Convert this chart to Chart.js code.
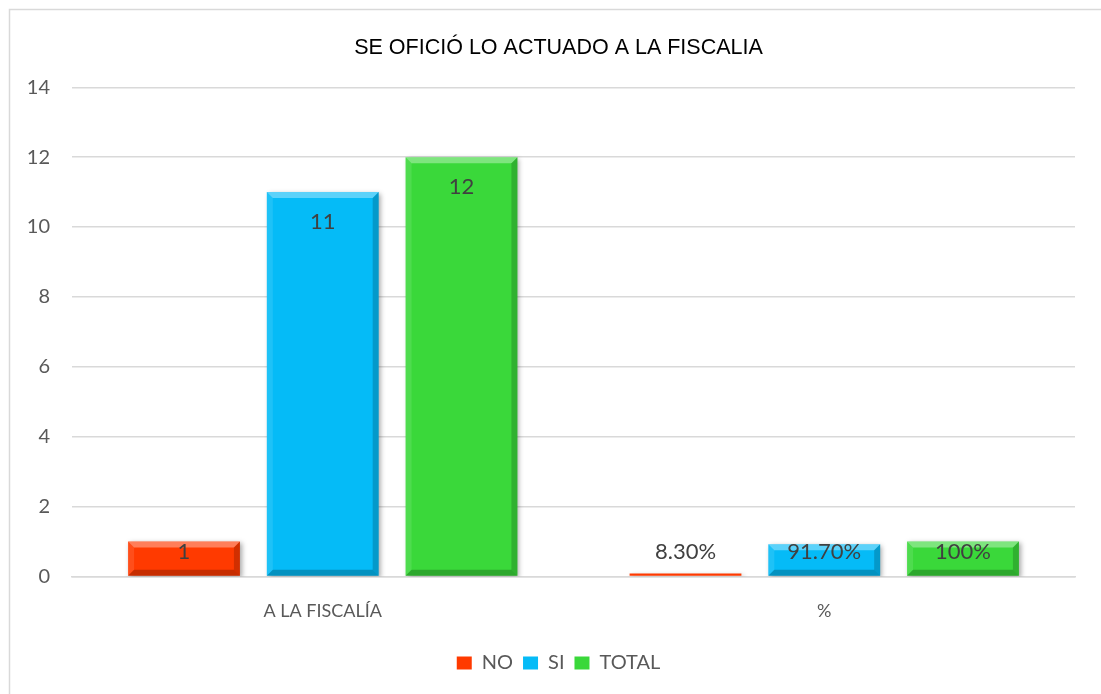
<!DOCTYPE html>
<html>
<head>
<meta charset="utf-8">
<script src="https://cdn.jsdelivr.net/npm/chart.js@4/dist/chart.umd.min.js"></script>
<style>
html,body{margin:0;padding:0;background:#fff;}
#wrap{width:1101px;height:694px;position:relative;}
</style>
</head>
<body>
<div id="wrap"><canvas id="c" width="1101" height="694"></canvas></div>
<script>
const categories = ["A LA FISCALÍA", "%"];
const seriesNames = ["NO", "SI", "TOTAL"];
const noValues = [1, 0.083];
const siValues = [11, 0.917];
const totalValues = [12, 1];
const noLabels = ["1", "8.30%"];
const siLabels = ["11", "91.70%"];
const totalLabels = ["12", "100%"];
const yTicks = [0, 2, 4, 6, 8, 10, 12, 14];
const title = "SE OFICIÓ LO ACTUADO A LA FISCALIA";

const colors = ["#FF3A00", "#05BBF7", "#3AD83A"];
const labelSets = [noLabels, siLabels, totalLabels];

const borderPlugin = {
  id: 'chartBorder',
  beforeDraw(chart) {
    const ctx = chart.ctx;
    ctx.save();
    ctx.strokeStyle = '#D9D9D9';
    ctx.lineWidth = 1.5;
    ctx.strokeRect(9.5, 9.5, 1200, 800);
    ctx.restore();
  }
};

const shiftPlugin = {
  id: 'shiftBlocks',
  afterLayout(chart) {
    const dx = 21;
    if (chart.titleBlock) { chart.titleBlock.left += dx; chart.titleBlock.right += dx; }
    if (chart.legend) {
      chart.legend.left += dx; chart.legend.right += dx;
      chart.legend.top -= 3; chart.legend.bottom -= 3;
    }
  }
};

const shadowPlugin = {
  id: 'barShadow',
  beforeDatasetDraw(chart) {
    const ctx = chart.ctx;
    ctx.save();
    ctx.shadowColor = 'rgba(0,0,0,0.35)';
    ctx.shadowBlur = 5;
    ctx.shadowOffsetX = 2;
    ctx.shadowOffsetY = 2;
  },
  afterDatasetDraw(chart) {
    chart.ctx.restore();
  }
};

const bevelPlugin = {
  id: 'bevel',
  afterDatasetsDraw(chart) {
    const ctx = chart.ctx;
    ctx.save();
    chart.data.datasets.forEach((ds, di) => {
      const meta = chart.getDatasetMeta(di);
      meta.data.forEach((bar) => {
        const l = bar.x - bar.width / 2, r = bar.x + bar.width / 2;
        const t = bar.y, btm = bar.base;
        const h = btm - t;
        if (h < 6) return;
        const b = Math.min(6, h / 3);
        ctx.fillStyle = 'rgba(255,255,255,0.35)';
        ctx.beginPath();
        ctx.moveTo(l, t); ctx.lineTo(r, t); ctx.lineTo(r - b, t + b); ctx.lineTo(l + b, t + b); ctx.closePath(); ctx.fill();
        ctx.fillStyle = 'rgba(255,255,255,0.10)';
        ctx.beginPath();
        ctx.moveTo(l, t); ctx.lineTo(l + b, t + b); ctx.lineTo(l + b, btm - b); ctx.lineTo(l, btm); ctx.closePath(); ctx.fill();
        ctx.fillStyle = 'rgba(0,0,0,0.18)';
        ctx.beginPath();
        ctx.moveTo(r, t); ctx.lineTo(r - b, t + b); ctx.lineTo(r - b, btm - b); ctx.lineTo(r, btm); ctx.closePath(); ctx.fill();
        ctx.fillStyle = 'rgba(0,0,0,0.22)';
        ctx.beginPath();
        ctx.moveTo(l, btm); ctx.lineTo(l + b, btm - b); ctx.lineTo(r - b, btm - b); ctx.lineTo(r, btm); ctx.closePath(); ctx.fill();
      });
    });
    ctx.restore();
  }
};

const labelPlugin = {
  id: 'barLabels',
  afterDatasetsDraw(chart) {
    const ctx = chart.ctx;
    ctx.save();
    ctx.font = '22px Lato, "Open Sans", sans-serif';
    ctx.fillStyle = '#404040';
    ctx.textAlign = 'center';
    ctx.textBaseline = 'middle';
    chart.data.datasets.forEach((ds, di) => {
      const meta = chart.getDatasetMeta(di);
      meta.data.forEach((bar, i) => {
        const y = Math.min(bar.y + 30, bar.base - 24);
        ctx.fillText(labelSets[di][i], bar.x, y);
      });
    });
    ctx.restore();
  }
};

new Chart(document.getElementById('c'), {
  type: 'bar',
  data: {
    labels: categories,
    datasets: [
      { label: seriesNames[0], data: noValues, backgroundColor: colors[0] },
      { label: seriesNames[1], data: siValues, backgroundColor: colors[1] },
      { label: seriesNames[2], data: totalValues, backgroundColor: colors[2] }
    ].map(d => Object.assign(d, { barPercentage: 0.806, categoryPercentage: 0.83, borderWidth: 0 }))
  },
  options: {
    responsive: false,
    animation: false,
    layout: { padding: { left: 0, right: 26, top: 0, bottom: 8 } },
    plugins: {
      title: {
        display: true,
        text: title,
        color: '#000000',
        font: { family: '"Liberation Sans", Arial, sans-serif', size: 21.5, weight: 'normal' },
        padding: { top: 35, bottom: 26.5 }
      },
      legend: {
        position: 'bottom',
        labels: {
          color: '#595959',
          font: { family: 'Lato, "Open Sans", sans-serif', size: 20 },
          boxWidth: 15, boxHeight: 13, padding: 10
        }
      },
      tooltip: { enabled: false }
    },
    scales: {
      x: {
        grid: { display: false, drawTicks: false },
        border: { color: '#D9D9D9', width: 1.5 },
        ticks: { color: '#595959', font: { family: 'Lato, "Open Sans", sans-serif', size: 18 }, padding: 24 }
      },
      y: {
        min: 0, max: 14,
        afterBuildTicks(scale) { scale.ticks = yTicks.map(v => ({ value: v })); },
        afterFit(scale) { scale.width = 72; },
        grid: { color: '#D9D9D9', lineWidth: 1.5, drawTicks: false },
        border: { display: false },
        ticks: { color: '#595959', font: { family: 'Lato, "Open Sans", sans-serif', size: 20 }, padding: 22 }
      }
    }
  },
  plugins: [borderPlugin, shiftPlugin, shadowPlugin, bevelPlugin, labelPlugin]
});
</script>
</body>
</html>
